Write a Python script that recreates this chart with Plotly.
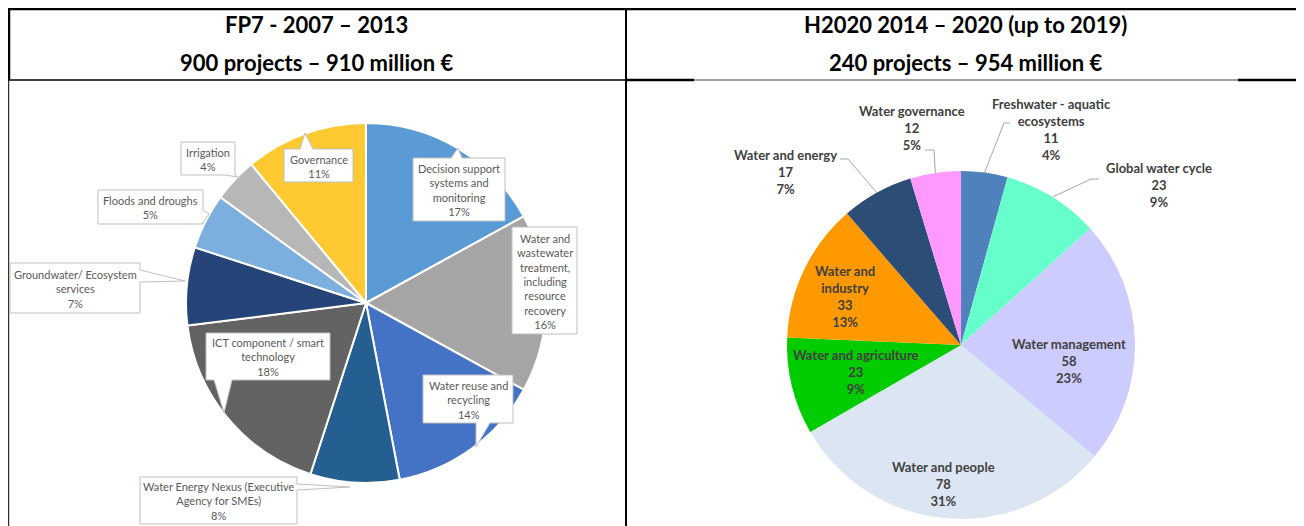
import math
import plotly.graph_objects as go

W, H = 1304, 526
OFF = 8  # page body margin
FW, FH = W - OFF, H - OFF

# ---- data ----
fp7_labels = ["Decision support<br>systems and<br>monitoring",
              "Water and<br>wastewater<br>treatment,<br>including<br>resource<br>recovery",
              "Water reuse and<br>recycling",
              "Water Energy Nexus (Executive<br>Agency for SMEs)",
              "ICT component / smart<br>technology",
              "Groundwater/ Ecosystem<br>services",
              "Floods and droughs",
              "Irrigation",
              "Governance"]
fp7_share = [17, 16, 14, 8, 18, 7, 5, 4, 11]

h2020_labels = ["Freshwater - aquatic<br>ecosystems", "Global water cycle", "Water management",
                "Water and people", "Water and agriculture", "Water and<br>industry",
                "Water and energy", "Water governance"]
h2020_projects = [11, 23, 58, 78, 23, 33, 17, 12]

titles_left = ["FP7 - 2007 – 2013", "900 projects – 910 million €"]
titles_right = ["H2020 2014 – 2020 (up to 2019)", "240 projects – 954 million €"]

# ---- styles ----
fp7_colors = ["#5B9BD5", "#A5A5A5", "#4472C4", "#255E91", "#636363",
              "#264478", "#7CAFDD", "#B7B7B7", "#FFC931"]
h2020_colors = ["#4F81BD", "#66FFCC", "#CCCCFF", "#DCE6F2", "#00CC00",
                "#FF9900", "#2C4D75", "#FF99FF"]
FONT = "Lato, 'Open Sans', sans-serif"


def X(px):
    return (px - OFF) / FW


def Y(py):
    return 1 - (py - OFF) / FH


# pie geometry in page pixels (center x, center y, radius)
left_pie = (366, 303, 180)
right_pie = (961, 345, 174)


def domain(p):
    cx, cy, r = p
    return dict(x=[X(cx - r), X(cx + r)], y=[Y(cy + r), Y(cy - r)])


fig = go.Figure()
fig.add_trace(go.Pie(labels=fp7_labels, values=fp7_share, sort=False, direction="clockwise",
                     rotation=0, domain=domain(left_pie), textinfo="none",
                     marker=dict(colors=fp7_colors, line=dict(color="white", width=2)),
                     showlegend=False))
fig.add_trace(go.Pie(labels=h2020_labels, values=h2020_projects, sort=False, direction="clockwise",
                     rotation=0, domain=domain(right_pie), textinfo="none",
                     marker=dict(colors=h2020_colors, line=dict(color="white", width=0)),
                     showlegend=False))

shapes = []
annotations = []

# ---- table frame ----
def hline(x0, x1, y, w, c="black"):
    shapes.append(dict(type="line", xref="paper", yref="paper", x0=X(x0), x1=X(x1),
                       y0=Y(y), y1=Y(y), line=dict(color=c, width=w)))


def vline(x, y0, y1, w, c="black"):
    shapes.append(dict(type="line", xref="paper", yref="paper", x0=X(x), x1=X(x),
                       y0=Y(y0), y1=Y(y1), line=dict(color=c, width=w)))


hline(8, W, 9, 2.5)
vline(9, 8, 80, 2.5)
vline(8.7, 80, H, 1)
vline(626, 8, H, 2)
hline(8, 626, 80, 1.5)
hline(626, 694, 80, 2.5)
hline(694, 1238, 80, 1, "#444444")
hline(1238, W, 80, 2.5)

for titles, cx_t in ((titles_left, 316), (titles_right, 965)):
    for i, t in enumerate(titles):
        annotations.append(dict(x=X(cx_t), y=Y(24 + 38 * i), xref="paper", yref="paper",
                                text=f"<b>{t}</b>", showarrow=False,
                                font=dict(family=FONT, size=22, color="black"),
                                xanchor="center", yanchor="middle"))

# ---- FP7 callouts: box (x0, y0, x1, y1), pointer side, base span, tip ----
callouts = [
    ((413, 158, 505, 221), "top", (451, 462), (458, 148)),
    ((512, 227, 577, 334), None, None, None),
    ((423, 375, 513, 423), "bottom", (476, 490), (476, 447)),
    ((140, 477, 297, 524), "right", (484, 490), (350, 487)),
    ((206, 333, 330, 380), "bottom", (214, 232), (224, 413)),
    ((10, 263, 140, 313), "right", (270, 282), (185, 281)),
    ((98, 190, 203, 224), "right", (210, 222), (209, 214)),
    ((181, 142, 235, 175), "bottom", (225, 235), (238, 177)),
    ((284, 149, 353, 182), "top", (300, 313), (305, 133)),
]


def callout_path(box, side, base, tip):
    x0, y0, x1, y1 = box
    pts = [(x0, y0)]
    if side == "top":
        pts += [(base[0], y0), tip, (base[1], y0)]
    pts.append((x1, y0))
    if side == "right":
        pts += [(x1, base[0]), tip, (x1, base[1])]
    pts.append((x1, y1))
    if side == "bottom":
        pts += [(base[1], y1), tip, (base[0], y1)]
    pts.append((x0, y1))
    return "M " + " L ".join(f"{X(a):.5f},{Y(b):.5f}" for a, b in pts) + " Z"


for lab, pct, (box, side, base, tip) in zip(fp7_labels, fp7_share, callouts):
    shapes.append(dict(type="path", xref="paper", yref="paper",
                       path=callout_path(box, side, base, tip),
                       fillcolor="white", line=dict(color="#BFBFBF", width=1)))
    annotations.append(dict(x=X((box[0] + box[2]) / 2), y=Y((box[1] + box[3]) / 2 + 0.5),
                            xref="paper", yref="paper", text=f"{lab}<br>{pct}%",
                            showarrow=False, align="center",
                            font=dict(family=FONT, size=11, color="#595959"),
                            xanchor="center", yanchor="middle"))

# ---- H2020 labels: text center, leader start (None = inside) ----
h_label_pos = [(1051, 130), (1159, 185), (1069, 361), (943, 484),
               (856, 372), (845, 296), (785, 172), (912, 128)]
h_leader = [((1010, 123), (1004, 123)), ((1099, 179), (1091, 179)), None, None,
            None, None, ((840, 159), (848, 159)), ((925, 150), (934, 150))]

total = sum(h2020_projects)
cum = 0
cx, cy, r = right_pie
for lab, n, pos, lead in zip(h2020_labels, h2020_projects, h_label_pos, h_leader):
    mid = (cum + n / 2) / total * 2 * math.pi
    cum += n
    annotations.append(dict(x=X(pos[0]), y=Y(pos[1]), xref="paper", yref="paper",
                            text=f"<b>{lab}<br>{n}<br>{round(100 * n / total)}%</b>",
                            showarrow=False, align="center",
                            font=dict(family=FONT, size=13, color="#404040"),
                            xanchor="center", yanchor="middle"))
    if lead:
        ex, ey = cx + r * math.sin(mid), cy - r * math.cos(mid)
        (ax, ay), (bx, by) = lead
        shapes.append(dict(type="path", xref="paper", yref="paper",
                           path=f"M {X(ax):.5f},{Y(ay):.5f} L {X(bx):.5f},{Y(by):.5f} L {X(ex):.5f},{Y(ey):.5f}",
                           line=dict(color="#A6A6A6", width=1)))

fig.update_layout(width=FW, height=FH, margin=dict(l=0, r=0, t=0, b=0),
                  paper_bgcolor="white", plot_bgcolor="white",
                  shapes=shapes, annotations=annotations, showlegend=False)
fig.write_html("out.html")
